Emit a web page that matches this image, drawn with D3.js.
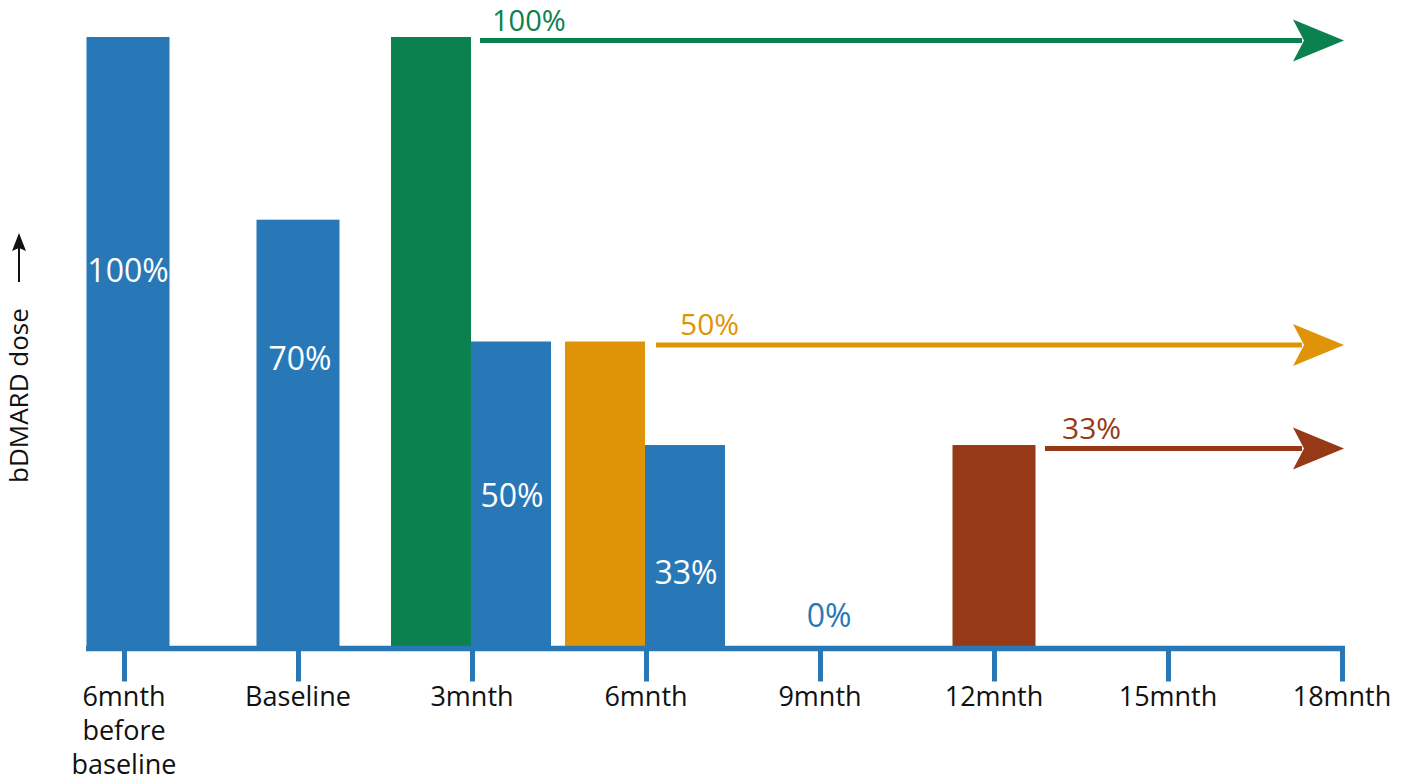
<!DOCTYPE html>
<html>
<head>
<meta charset="utf-8">
<script src="https://cdn.jsdelivr.net/npm/d3@7/dist/d3.min.js"></script>
<style>
  html, body { margin: 0; padding: 0; background: #fff; }
  svg { display: block; font-family: "Open Sans", "Noto Sans", sans-serif; }
</style>
</head>
<body>
<svg id="chart" width="1416" height="784"></svg>
<script>
// ---------- data ----------
const timepoints = ["6mnth|before|baseline", "Baseline", "3mnth", "6mnth", "9mnth", "12mnth", "15mnth", "18mnth"];

// bars: timepoint, placement relative to tick, dose (%), strategy
const barTime   = ["6mnth|before|baseline", "Baseline", "3mnth", "3mnth", "6mnth", "6mnth", "12mnth"];
const barPlace  = ["center", "center", "before", "after", "before", "after", "center"];
const barDose   = [100, 70, 100, 50, 50, 33, 33];
const barSeries = ["taper", "taper", "full", "taper", "half", "taper", "third"];

// in-bar labels for the tapering series
const tapLabelTime  = ["6mnth|before|baseline", "Baseline", "3mnth", "6mnth", "9mnth"];
const tapLabelPlace = ["center", "center", "after", "after", "center"];
const tapLabelText  = ["100%", "70%", "50%", "33%", "0%"];

// continuation arrows
const arrowSeries = ["full", "half", "third"];
const arrowDose   = [100, 50, 33];
const arrowText   = ["100%", "50%", "33%"];
const arrowFrom   = ["3mnth", "6mnth", "12mnth"];   // starts after the bar at this tick
const arrowTo     = "18mnth";

const yLabel = "bDMARD dose";

// ---------- styles / layout ----------
const colors = { taper: "#2878b8", full: "#0b8150", half: "#df9408", third: "#963916" };
const labelLevel = [59.8, 45.3, 22.8, 10.2, 3.1];  // vertical position of in-bar labels, in dose units
const arrowGap = [8, 10, 11];
const arrowLabelDx = [12, 24, 17];

const svg = d3.select("#chart");

const x = d3.scalePoint().domain(timepoints).range([124, 1342]);
const y = d3.scaleLinear().domain([0, 100]).range([646, 37]);
const bw = 80;   // split bars
const cw = 83;   // centred bars

function barX0(t, p) {
  const c = x(t);
  if (p === "before") return c - bw - 1;
  if (p === "after") return c - 1;
  return c - cw / 2 + (t === timepoints[0] ? 4 : 0);
}

// bars
svg.append("g").selectAll("rect")
  .data(barDose.map((d, i) => ({ d, t: barTime[i], p: barPlace[i], s: barSeries[i] })))
  .join("rect")
  .attr("x", o => barX0(o.t, o.p))
  .attr("y", o => y(o.d))
  .attr("width", o => o.p === "center" ? cw : bw)
  .attr("height", o => y(0) - y(o.d) + 2)
  .attr("fill", o => colors[o.s]);

// x axis
const axisG = svg.append("g").attr("transform", `translate(0,${y(0) + 2.5})`);
axisG.call(d3.axisBottom(x).tickSize(33).tickFormat(""));
axisG.select(".domain").remove();
axisG.append("line")
  .attr("x1", 86).attr("x2", x(arrowTo) + 3)
  .attr("y1", 0).attr("y2", 0)
  .attr("stroke", colors.taper).attr("stroke-width", 5.5);
axisG.selectAll(".tick line")
  .attr("stroke", colors.taper).attr("stroke-width", 5);

// tick labels (multi-line)
const tl = svg.append("g");
timepoints.forEach(t => {
  const lines = t.split("|");
  const txt = tl.append("text")
    .attr("x", x(t))
    .attr("y", 706)
    .attr("text-anchor", "middle")
    .attr("font-size", 27)
    .attr("fill", "#111");
  lines.forEach((ln, k) => {
    txt.append("tspan").attr("x", x(t)).attr("dy", k === 0 ? 0 : 34).text(ln);
  });
});

// in-bar labels
svg.append("g").selectAll("text")
  .data(tapLabelText.map((s, i) => ({ s, t: tapLabelTime[i], p: tapLabelPlace[i], lv: labelLevel[i] })))
  .join("text")
  .attr("x", o => {
    if (o.p === "after") return x(o.t) + bw / 2;
    if (o.p === "before") return x(o.t) - bw / 2;
    return x(o.t) + (o.t === timepoints[0] ? 4 : (o.t === "9mnth" ? 9 : 2));
  })
  .attr("y", o => y(o.lv))
  .attr("text-anchor", "middle")
  .attr("font-size", 32)
  .attr("fill", (o, i) => i === tapLabelText.length - 1 ? colors.taper : "#fff")
  .text(o => o.s);

// arrows
const ag = svg.append("g");
arrowSeries.forEach((s, i) => {
  const c = colors[s];
  const yy = y(arrowDose[i]) + 3.5;
  const x0 = x(arrowFrom[i]) + (arrowFrom[i] === "12mnth" ? 40 : 0) + arrowGap[i];
  const tip = x(arrowTo) + 2;
  ag.append("line")
    .attr("x1", x0).attr("x2", tip - 42)
    .attr("y1", yy).attr("y2", yy)
    .attr("stroke", c).attr("stroke-width", 5);
  ag.append("path")
    .attr("d", `M${tip},${yy} L${tip - 51},${yy - 21} L${tip - 40},${yy} L${tip - 51},${yy + 21} Z`)
    .attr("fill", c);
  ag.append("text")
    .attr("x", x0 + arrowLabelDx[i])
    .attr("y", i === 0 ? 31 : yy - 10)
    .attr("font-size", i === 0 ? 29 : 30)
    .attr("fill", c)
    .text(arrowText[i]);
});

// y axis title with arrow
const yt = svg.append("g").attr("transform", "translate(28,483) rotate(-90)");
yt.append("text").attr("x", 0).attr("y", 0).attr("font-size", 26).attr("fill", "#111").text(yLabel);
yt.append("line").attr("x1", 201).attr("x2", 236).attr("y1", -9).attr("y2", -9)
  .attr("stroke", "#111").attr("stroke-width", 2);
yt.append("path").attr("d", "M250,-9 L232,-16 L235,-9 L232,-2 Z").attr("fill", "#111");
</script>
</body>
</html>
